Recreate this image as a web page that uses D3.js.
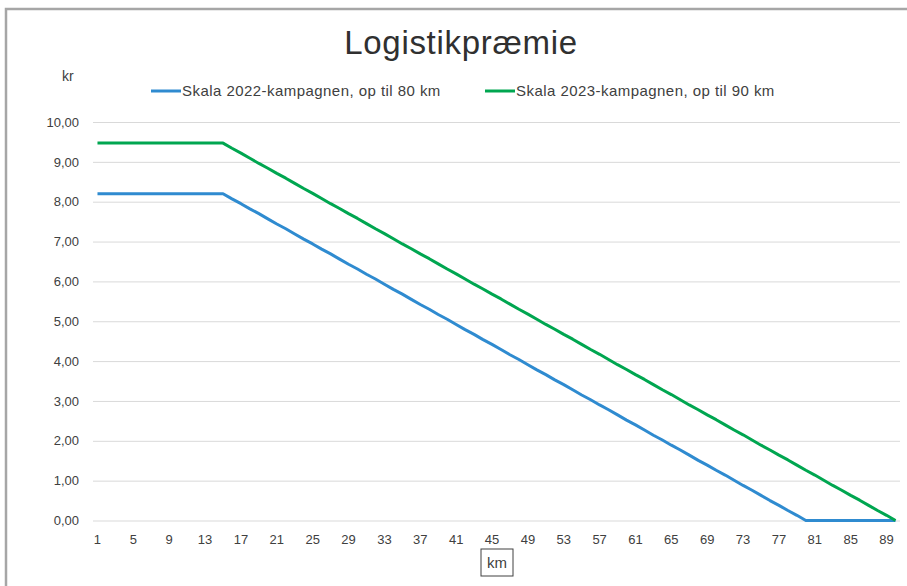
<!DOCTYPE html>
<html>
<head>
<meta charset="utf-8">
<script src="https://cdn.jsdelivr.net/npm/d3@7"></script>
<style>
  body { margin: 0; background: #fff; }
  svg { display: block; font-family: "Liberation Sans", Arial, sans-serif; }
</style>
</head>
<body>
<svg id="chart"></svg>
<script>
var screen = {width: 907, height: 586}
var margins = {top: 122, right: 7, bottom: 65.5, left: 93}

// km 1..90
var km = [1,2,3,4,5,6,7,8,9,10,11,12,13,14,15,16,17,18,19,20,21,22,23,24,25,26,27,28,29,30,
          31,32,33,34,35,36,37,38,39,40,41,42,43,44,45,46,47,48,49,50,51,52,53,54,55,56,57,58,59,60,
          61,62,63,64,65,66,67,68,69,70,71,72,73,74,75,76,77,78,79,80,81,82,83,84,85,86,87,88,89,90]

var kmTicks = [1,5,9,13,17,21,25,29,33,37,41,45,49,53,57,61,65,69,73,77,81,85,89]
var krTicks = [0,1,2,3,4,5,6,7,8,9,10]

var skala2022 = [8.20,8.20,8.20,8.20,8.20,8.20,8.20,8.20,8.20,8.20,8.20,8.20,8.20,8.20,8.20,
                 8.07,7.95,7.82,7.70,7.57,7.44,7.32,7.19,7.06,6.94,6.81,6.69,6.56,6.43,6.31,
                 6.18,6.06,5.93,5.80,5.68,5.55,5.42,5.30,5.17,5.05,4.92,4.79,4.67,4.54,4.42,
                 4.29,4.16,4.04,3.91,3.78,3.66,3.53,3.41,3.28,3.15,3.03,2.90,2.78,2.65,2.52,
                 2.40,2.27,2.14,2.02,1.89,1.77,1.64,1.51,1.39,1.26,1.14,1.01,0.88,0.76,0.63,
                 0.50,0.38,0.25,0.13,0.00,0,0,0,0,0,0,0,0,0,0]

var skala2023 = [9.47,9.47,9.47,9.47,9.47,9.47,9.47,9.47,9.47,9.47,9.47,9.47,9.47,9.47,9.47,
                 9.34,9.22,9.09,8.96,8.84,8.71,8.59,8.46,8.33,8.21,8.08,7.95,7.83,7.70,7.58,
                 7.45,7.32,7.20,7.07,6.94,6.82,6.69,6.57,6.44,6.31,6.19,6.06,5.93,5.81,5.68,
                 5.56,5.43,5.30,5.18,5.05,4.92,4.80,4.67,4.55,4.42,4.29,4.17,4.04,3.91,3.79,
                 3.66,3.54,3.41,3.28,3.16,3.03,2.90,2.78,2.65,2.53,2.40,2.27,2.15,2.02,1.89,
                 1.77,1.64,1.52,1.39,1.26,1.14,1.01,0.88,0.76,0.63,0.51,0.38,0.25,0.13,0.00]

var seriesNames = ["Skala 2022-kampagnen, op til 80 km", "Skala 2023-kampagnen, op til 90 km"]
var seriesColors = ["#2f8bd0", "#00a650"]
var seriesData = [skala2022, skala2023]

var svg = d3.select("svg")
    .attr("width", screen.width)
    .attr("height", screen.height)

var width = screen.width - margins.left - margins.right
var height = screen.height - margins.top - margins.bottom

// outer frame
svg.append("rect")
    .attr("x", 6).attr("y", 9)
    .attr("width", 1000).attr("height", 1000)
    .attr("fill", "none")
    .attr("stroke", "#a6a6a6")
    .attr("stroke-width", 2.5)

var xScale = d3.scaleBand()
    .domain(km)
    .range([0, width])

var yScale = d3.scaleLinear()
    .domain([0, 10])
    .range([height, 0])

var fmt = function(d) { return d3.format(".2f")(d).replace(".", ",") }

var graph = svg.append("g")
    .attr("transform", "translate(" + margins.left + "," + margins.top + ")")

var yAxis = d3.axisLeft(yScale)
    .tickValues(krTicks)
    .tickFormat(fmt)
    .tickSizeInner(-width)
    .tickSizeOuter(0)
    .tickPadding(14)

graph.append("g")
    .attr("class", "yAxis")
    .call(yAxis)
    .call(function(g) {
        g.select(".domain").remove()
        g.selectAll("line").attr("stroke", "#d9d9d9")
        g.selectAll("text").attr("fill", "#404040").style("font-size", "13px")
    })

var xAxis = d3.axisBottom(xScale)
    .tickValues(kmTicks)
    .tickSize(0)
    .tickPadding(14)

graph.append("g")
    .attr("class", "xAxis")
    .attr("transform", "translate(0," + height + ")")
    .call(xAxis)
    .call(function(g) {
        g.select(".domain").remove()
        g.selectAll("text").attr("fill", "#404040").style("font-size", "13px")
    })

var line = d3.line()
    .x(function(d, i) { return xScale(km[i]) + xScale.bandwidth() / 2 })
    .y(function(d) { return yScale(d) })

graph.selectAll(".serie")
    .data(seriesData)
    .enter()
    .append("path")
    .attr("class", "serie")
    .attr("d", line)
    .attr("fill", "none")
    .attr("stroke", function(d, i) { return seriesColors[i] })
    .attr("stroke-width", 3)
    .attr("stroke-linejoin", "round")

// title
svg.append("text")
    .attr("x", 461)
    .attr("y", 54)
    .attr("text-anchor", "middle")
    .style("font-size", "33px")
    .style("letter-spacing", "0.7px")
    .attr("fill", "#303030")
    .text("Logistikpræmie")

// y unit
svg.append("text")
    .attr("x", 62)
    .attr("y", 81)
    .style("font-size", "14px")
    .attr("fill", "#404040")
    .text("kr")

// legend
var legendX = [151, 485]
var legend = svg.selectAll(".legend")
    .data(seriesNames)
    .enter()
    .append("g")
    .attr("class", "legend")
    .attr("transform", function(d, i) { return "translate(" + legendX[i] + ",91)" })

legend.append("line")
    .attr("x1", 0).attr("x2", 30)
    .attr("stroke", function(d, i) { return seriesColors[i] })
    .attr("stroke-width", 3)

legend.append("text")
    .attr("x", 31)
    .attr("y", 5)
    .style("font-size", "15px")
    .style("letter-spacing", "0.45px")
    .attr("fill", "#404040")
    .text(function(d) { return d })

// x title in a box
var kmTitle = svg.append("g").attr("transform", "translate(497,568)")
kmTitle.append("rect")
    .attr("x", -16).attr("y", -19)
    .attr("width", 32).attr("height", 27)
    .attr("fill", "#fff")
    .attr("stroke", "#404040")
    .attr("stroke-width", 1)
kmTitle.append("text")
    .attr("text-anchor", "middle")
    .style("font-size", "15px")
    .attr("fill", "#404040")
    .text("km")
</script>
</body>
</html>
